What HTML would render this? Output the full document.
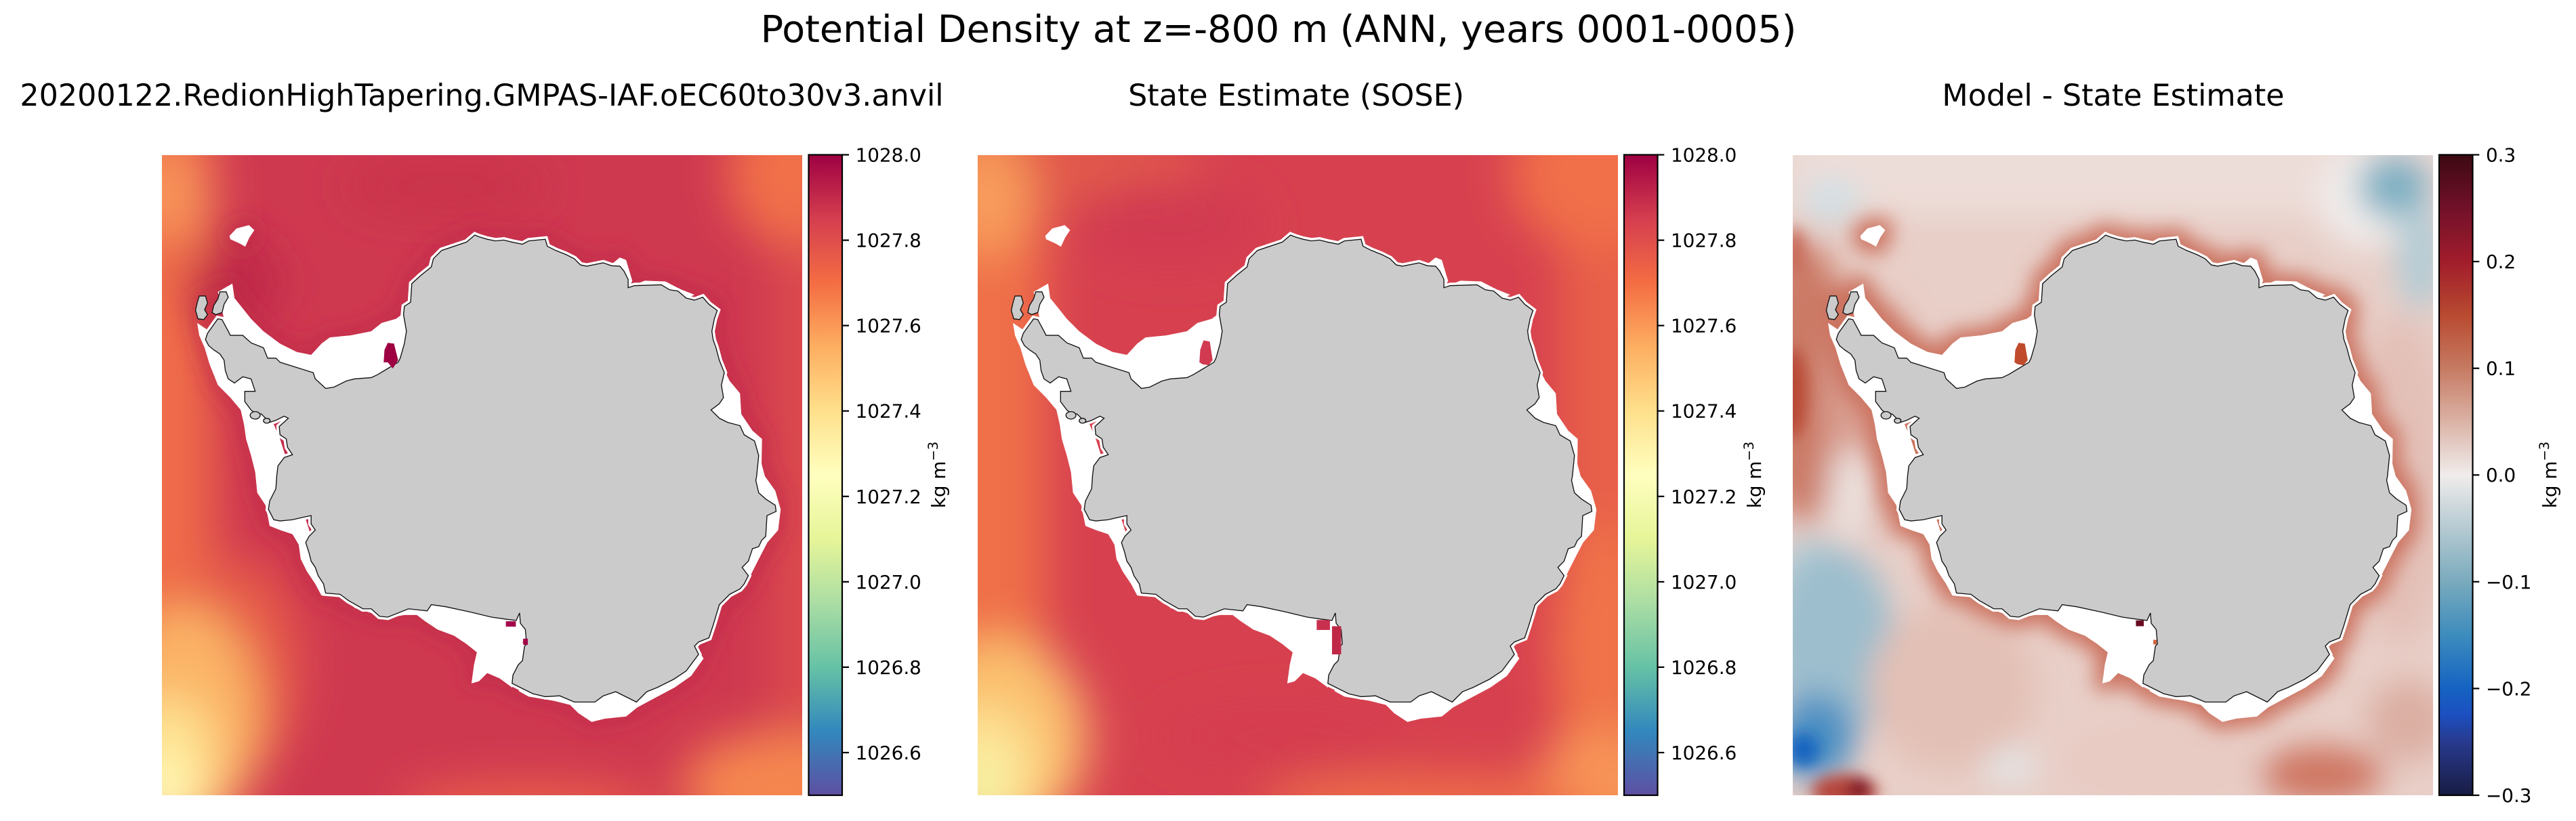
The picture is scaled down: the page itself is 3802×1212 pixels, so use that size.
<!DOCTYPE html>
<html><head><meta charset="utf-8"><style>
html,body{margin:0;padding:0;background:#fff;}
svg{display:block;}
text{font-family:"DejaVu Sans","Liberation Sans",sans-serif;fill:#000;}
</style></head><body>
<svg xmlns="http://www.w3.org/2000/svg" xmlns:xlink="http://www.w3.org/1999/xlink" width="3802" height="1212" viewBox="0 0 3802 1212">
<defs>
<filter id="bl" filterUnits="userSpaceOnUse" x="-600" y="-600" width="2800" height="2800"><feGaussianBlur stdDeviation="55"/></filter>
<filter id="bm" filterUnits="userSpaceOnUse" x="-600" y="-600" width="2800" height="2800"><feGaussianBlur stdDeviation="38"/></filter>
<filter id="bs" filterUnits="userSpaceOnUse" x="-600" y="-600" width="2800" height="2800"><feGaussianBlur stdDeviation="18"/></filter>
<filter id="halo3" filterUnits="userSpaceOnUse" x="-600" y="-600" width="2800" height="2800">
<feMorphology in="SourceAlpha" operator="dilate" radius="18" result="d"/>
<feGaussianBlur in="d" stdDeviation="24" result="b"/>
<feFlood flood-color="#cc7360"/>
<feComposite in2="b" operator="in"/>
</filter>
<filter id="halo1" filterUnits="userSpaceOnUse" x="-600" y="-600" width="2800" height="2800">
<feMorphology in="SourceAlpha" operator="dilate" radius="14" result="d"/>
<feGaussianBlur in="d" stdDeviation="26" result="b"/>
<feFlood flood-color="#bd2446" flood-opacity="0.55"/>
<feComposite in2="b" operator="in"/>
</filter>
<linearGradient id="spec" x1="0" y1="0" x2="0" y2="1">
<stop offset="0" stop-color="#9e0142"/><stop offset="0.1" stop-color="#d53e4f"/><stop offset="0.2" stop-color="#f46d43"/><stop offset="0.3" stop-color="#fdae61"/><stop offset="0.4" stop-color="#fee08b"/><stop offset="0.5" stop-color="#ffffbf"/><stop offset="0.6" stop-color="#e6f598"/><stop offset="0.7" stop-color="#abdda4"/><stop offset="0.8" stop-color="#66c2a5"/><stop offset="0.9" stop-color="#3288bd"/><stop offset="1" stop-color="#5e4fa2"/>
</linearGradient>
<linearGradient id="bal" x1="0" y1="0" x2="0" y2="1">
<stop offset="0" stop-color="#3c0912"/><stop offset="0.083" stop-color="#72102a"/><stop offset="0.167" stop-color="#a11d2b"/><stop offset="0.25" stop-color="#b84a30"/><stop offset="0.333" stop-color="#c67a62"/><stop offset="0.417" stop-color="#dbb3a6"/><stop offset="0.5" stop-color="#f0eceb"/><stop offset="0.583" stop-color="#b5cad2"/><stop offset="0.667" stop-color="#79aabd"/><stop offset="0.75" stop-color="#3d8cbd"/><stop offset="0.833" stop-color="#1563c2"/><stop offset="0.875" stop-color="#1c4fc0"/><stop offset="0.917" stop-color="#283a8e"/><stop offset="1" stop-color="#181c43"/>
</linearGradient>
<path id="land" d="M125,445 L150,410 L160,412 L175,440 L180,450 L210,450 L230,468 L260,480 L270,505 L290,505 L300,515 L380,540 L385,555 L410,578 L430,575 L460,560 L480,555 L520,552 L535,545 L560,530 L585,515 L590,505 L600,470 L605,440 L598,400 L600,380 L615,370 L618,325 L640,305 L665,285 L670,265 L690,245 L720,235 L750,225 L770,208 L780,212 L800,218 L820,222 L840,220 L860,225 L885,230 L900,222 L940,218 L945,235 L965,245 L990,255 L1010,265 L1025,280 L1040,283 L1080,275 L1100,282 L1120,283 L1130,295 L1140,315 L1140,335 L1155,330 L1220,328 L1240,340 L1260,343 L1280,360 L1300,365 L1320,358 L1335,375 L1355,390 L1348,410 L1342,440 L1345,460 L1352,480 L1360,510 L1372,540 L1365,570 L1370,600 L1360,615 L1340,630 L1360,650 L1380,660 L1410,668 L1420,690 L1445,705 L1455,740 L1450,790 L1448,800 L1455,830 L1472,845 L1495,860 L1497,875 L1475,885 L1472,935 L1462,945 L1455,960 L1440,965 L1430,995 L1415,1010 L1430,1030 L1420,1050 L1410,1062 L1385,1075 L1360,1100 L1345,1150 L1335,1180 L1310,1190 L1300,1200 L1310,1220 L1280,1260 L1250,1280 L1210,1300 L1185,1310 L1160,1335 L1140,1325 L1110,1310 L1080,1320 L1060,1335 L1010,1335 L975,1320 L940,1322 L910,1315 L880,1300 L860,1290 L862,1270 L875,1245 L885,1235 L890,1200 L895,1195 L892,1160 L880,1145 L878,1120 L870,1138 L845,1135 L810,1130 L760,1118 L700,1105 L665,1100 L655,1115 L610,1110 L560,1130 L540,1128 L520,1110 L500,1110 L465,1090 L445,1075 L410,1072 L405,1050 L392,1030 L385,1010 L375,995 L370,975 L362,950 L370,935 L385,920 L375,905 L375,885 L360,888 L330,895 L300,898 L285,895 L272,870 L275,850 L290,820 L292,790 L295,765 L310,745 L330,738 L318,720 L315,700 L300,690 L298,670 L320,650 L310,645 L290,655 L275,660 L265,650 L255,640 L240,638 L230,630 L215,610 L215,585 L240,585 L230,555 L210,550 L190,565 L175,555 L168,535 L165,510 L155,495 L140,485 L128,475 L120,460 Z"/>
<g id="isl">
<path d="M105,355 L120,355 L125,372 L118,388 L125,400 L116,412 L102,410 L96,390 L100,372 Z"/>
<path d="M155,345 L170,345 L175,358 L165,375 L160,395 L145,400 L136,395 L140,378 L150,362 Z"/>
<ellipse cx="240" cy="643" rx="12" ry="9"/>
<ellipse cx="268" cy="656" rx="8" ry="6"/>
</g>
<g id="wht" fill="#fff">
<path d="M150,345 L185,325 L190,360 L210,385 L230,410 L260,440 L300,470 L340,490 L375,497 L400,470 L420,455 L470,450 L520,440 L545,420 L580,410 L600,395 L610,480 L590,520 L420,585 L300,520 L175,455 Z"/>
<path d="M100,420 L105,450 L118,480 L130,520 L150,570 L180,600 L205,630 L213,665 L218,700 L230,740 L240,780 L245,830 L265,860 L275,910 L300,920 L330,930 L345,955 L350,990 L365,1020 L385,1050 L400,1078 L430,1080 L380,950 L300,700 L240,560 L130,440 Z"/>
<path d="M465,1090 L480,1108 L520,1120 L545,1135 L600,1125 L630,1125 L650,1140 L680,1160 L720,1175 L750,1195 L775,1215 L768,1245 L762,1290 L780,1285 L800,1265 L830,1278 L860,1300 L880,1250 L890,1150 L870,1110 L700,1095 L500,1095 Z"/>
<path d="M178,210 L195,192 L225,184 L238,196 L226,214 L216,236 L202,228 L180,218 Z"/>
<path d="M1350,470 L1370,530 L1385,560 L1410,590 L1413,640 L1440,680 L1463,700 L1462,760 L1470,790 L1495,825 L1508,870 L1502,920 L1476,950 L1463,975 L1440,1020 L1430,1040 L1412,1062 L1380,1082 L1360,1100 L1300,900 L1300,600 Z"/>
<path d="M1300,1195 L1322,1230 L1292,1272 L1252,1300 L1205,1325 L1162,1348 L1135,1370 L1085,1375 L1052,1383 L1020,1362 L1000,1342 L960,1332 L900,1322 L875,1308 L1000,1250 L1250,1200 Z"/>
<path d="M1098,280 L1120,262 L1135,268 L1150,318 L1142,338 L1120,300 Z"/>
<path d="M1150,330 L1180,318 L1230,320 L1265,338 L1300,352 L1280,362 L1220,335 Z"/>
<use xlink:href="#land" fill="#fff" stroke="#fff" stroke-width="14"/>
</g>
<g id="ant">
<use xlink:href="#wht"/>
<use xlink:href="#land" fill="#cbcbcb" stroke="#111" stroke-width="2.2"/>
<use xlink:href="#isl" fill="#cbcbcb" stroke="#111" stroke-width="2.2"/>
</g>
</defs>

<rect x="0" y="0" width="3802" height="1212" fill="#fff"/>

<text x="1887" y="62" font-size="55.6" text-anchor="middle">Potential Density at z=-800 m (ANN, years 0001-0005)</text>
<text x="711" y="156" font-size="44.4" text-anchor="middle">20200122.RedionHighTapering.GMPAS-IAF.oEC60to30v3.anvil</text>
<text x="1913" y="156" font-size="44.4" text-anchor="middle">State Estimate (SOSE)</text>
<text x="3119" y="156" font-size="44.4" text-anchor="middle">Model - State Estimate</text>

<!-- Panel 1 -->
<svg x="239" y="229" width="945" height="945" viewBox="15 15 1545 1545" preserveAspectRatio="none">
<rect x="0" y="0" width="1600" height="1600" fill="#cf3950"/>
<g filter="url(#bl)">
<rect x="-200" y="-100" width="340" height="1800" fill="#ef6c48"/>
<rect x="1490" y="-100" width="300" height="1800" fill="#dc4b4d"/>
<ellipse cx="200" cy="1250" rx="150" ry="260" fill="#e65c4a"/>
<ellipse cx="40" cy="110" rx="90" ry="110" fill="#f8955a"/>
<ellipse cx="70" cy="1380" rx="180" ry="280" fill="#fbb466"/>
<ellipse cx="30" cy="1480" rx="110" ry="160" fill="#fee594"/>
<ellipse cx="10" cy="1550" rx="70" ry="70" fill="#ffffc0"/>
<ellipse cx="1530" cy="60" rx="150" ry="170" fill="#f1704a"/>
<ellipse cx="1500" cy="1540" rx="230" ry="130" fill="#f58650"/>
<ellipse cx="900" cy="1590" rx="320" ry="60" fill="#ea6048"/>
<ellipse cx="190" cy="320" rx="110" ry="100" fill="#bd2647"/>
<ellipse cx="700" cy="90" rx="250" ry="60" fill="#c93249"/>
</g>
<use xlink:href="#ant" filter="url(#halo1)"/>
<use xlink:href="#ant"/>
<path d="M552,485 L560,468 L575,470 L585,510 L572,530 L560,515 L550,515 Z" fill="#9e0142"/>
<rect x="845" y="1140" width="24" height="13" fill="#a4064a"/>
<rect x="887" y="1182" width="11" height="15" fill="#a4064a"/>
</svg>

<!-- Panel 2 -->
<svg x="1443" y="229" width="945" height="945" viewBox="15 15 1545 1545" preserveAspectRatio="none">
<rect x="0" y="0" width="1600" height="1600" fill="#d7414f"/>
<g filter="url(#bl)">
<rect x="-200" y="-100" width="380" height="1800" fill="#ef7049"/>
<rect x="1420" y="-100" width="380" height="1800" fill="#e8604a"/>
<ellipse cx="300" cy="50" rx="260" ry="90" fill="#e25a4b"/>
<ellipse cx="40" cy="120" rx="110" ry="140" fill="#f89c5c"/>
<ellipse cx="70" cy="1420" rx="210" ry="240" fill="#fbc06e"/>
<ellipse cx="30" cy="1500" rx="120" ry="150" fill="#fde79a"/>
<ellipse cx="10" cy="1550" rx="60" ry="60" fill="#eef5a8"/>
<ellipse cx="1500" cy="60" rx="200" ry="180" fill="#f17049"/>
<ellipse cx="1520" cy="1200" rx="120" ry="300" fill="#f07349"/>
<ellipse cx="1520" cy="1530" rx="160" ry="130" fill="#f89459"/>
<ellipse cx="1100" cy="1580" rx="400" ry="70" fill="#ef7049"/>
<ellipse cx="480" cy="180" rx="230" ry="110" fill="#d23a51"/>
<ellipse cx="750" cy="1420" rx="300" ry="90" fill="#d53d50"/>
</g>
<use xlink:href="#ant"/>
<path d="M552,485 L560,462 L575,465 L582,510 L572,522 L558,520 L550,515 Z" fill="#d13a50"/>
<rect x="833" y="1137" width="32" height="24" fill="#c8304e"/>
<rect x="870" y="1152" width="22" height="68" fill="#c02848"/>
</svg>

<!-- Panel 3 -->
<svg x="2646" y="229" width="945" height="945" viewBox="15 15 1545 1545" preserveAspectRatio="none">
<rect x="0" y="0" width="1600" height="1600" fill="#e8cfc8"/>
<g filter="url(#bm)">
<rect x="0" y="-100" width="1600" height="260" fill="#edddd8"/>
<ellipse cx="1400" cy="120" rx="120" ry="120" fill="#f0eceb"/>
<ellipse cx="1470" cy="90" rx="90" ry="80" fill="#7fb0c3"/>
<ellipse cx="1530" cy="260" rx="60" ry="130" fill="#b4ccd5"/>
<ellipse cx="110" cy="125" rx="70" ry="55" fill="#d0e0e6"/>
<ellipse cx="40" cy="560" rx="120" ry="340" fill="#cb7a66"/>
<ellipse cx="210" cy="640" rx="120" ry="280" fill="#d99f91"/>
<ellipse cx="160" cy="830" rx="60" ry="110" fill="#ece2df"/>
<ellipse cx="60" cy="1050" rx="90" ry="110" fill="#b6cfd8"/>
<ellipse cx="110" cy="1200" rx="150" ry="240" fill="#9cbecd"/>
<ellipse cx="70" cy="1420" rx="95" ry="105" fill="#4b8fc3"/>
<ellipse cx="400" cy="1300" rx="200" ry="200" fill="#e3c0b5"/>
<ellipse cx="1290" cy="1510" rx="150" ry="70" fill="#cf7763"/>
<ellipse cx="1500" cy="1380" rx="100" ry="100" fill="#dcafa3"/>
<ellipse cx="1480" cy="800" rx="120" ry="400" fill="#e3c0b7"/>
<ellipse cx="900" cy="1480" rx="250" ry="100" fill="#e8cbc3"/>
<ellipse cx="540" cy="1490" rx="60" ry="40" fill="#e3e8ea"/>
</g>
<g filter="url(#bs)">
<ellipse cx="15" cy="590" rx="35" ry="110" fill="#b84a35"/>
<ellipse cx="20" cy="250" rx="25" ry="60" fill="#c86a58"/>
<ellipse cx="40" cy="1450" rx="40" ry="40" fill="#1565c0"/>
<ellipse cx="140" cy="1550" rx="80" ry="40" fill="#b5453a"/>
<ellipse cx="175" cy="1545" rx="28" ry="28" fill="#7a1020"/>
</g>
<use xlink:href="#ant" filter="url(#halo3)"/>
<use xlink:href="#ant"/>
<path d="M552,485 L560,468 L575,470 L582,510 L572,522 L558,520 L550,515 Z" fill="#c04a2c"/>
<rect x="843" y="1138" width="19" height="14" fill="#6a0a22"/>
<rect x="885" y="1185" width="8" height="11" fill="#d06040"/>
</svg>

<!-- Colorbar 1 -->
<rect x="1193.5" y="228.5" width="49.5" height="945.5" fill="url(#spec)" stroke="#000" stroke-width="2.2"/>
<g stroke="#000" stroke-width="2.2">
<line x1="1243" y1="228.5" x2="1253" y2="228.5"/><line x1="1243" y1="354.6" x2="1253" y2="354.6"/><line x1="1243" y1="480.6" x2="1253" y2="480.6"/><line x1="1243" y1="606.7" x2="1253" y2="606.7"/><line x1="1243" y1="732.8" x2="1253" y2="732.8"/><line x1="1243" y1="858.9" x2="1253" y2="858.9"/><line x1="1243" y1="984.9" x2="1253" y2="984.9"/><line x1="1243" y1="1111" x2="1253" y2="1111"/>
</g>
<g font-size="27.8">
<text x="1262.6" y="238.5">1028.0</text><text x="1262.6" y="364.6">1027.8</text><text x="1262.6" y="490.6">1027.6</text><text x="1262.6" y="616.7">1027.4</text><text x="1262.6" y="742.8">1027.2</text><text x="1262.6" y="868.9">1027.0</text><text x="1262.6" y="994.9">1026.8</text><text x="1262.6" y="1121">1026.6</text>
</g>
<text transform="translate(1395,701) rotate(-90)" font-size="27.8" text-anchor="middle">kg m<tspan dy="-11" font-size="19.5">−3</tspan></text>

<!-- Colorbar 2 -->
<rect x="2397" y="228.5" width="49.5" height="945.5" fill="url(#spec)" stroke="#000" stroke-width="2.2"/>
<g stroke="#000" stroke-width="2.2">
<line x1="2446.5" y1="228.5" x2="2456.3" y2="228.5"/><line x1="2446.5" y1="354.6" x2="2456.3" y2="354.6"/><line x1="2446.5" y1="480.6" x2="2456.3" y2="480.6"/><line x1="2446.5" y1="606.7" x2="2456.3" y2="606.7"/><line x1="2446.5" y1="732.8" x2="2456.3" y2="732.8"/><line x1="2446.5" y1="858.9" x2="2456.3" y2="858.9"/><line x1="2446.5" y1="984.9" x2="2456.3" y2="984.9"/><line x1="2446.5" y1="1111" x2="2456.3" y2="1111"/>
</g>
<g font-size="27.8">
<text x="2466" y="238.5">1028.0</text><text x="2466" y="364.6">1027.8</text><text x="2466" y="490.6">1027.6</text><text x="2466" y="616.7">1027.4</text><text x="2466" y="742.8">1027.2</text><text x="2466" y="868.9">1027.0</text><text x="2466" y="994.9">1026.8</text><text x="2466" y="1121">1026.6</text>
</g>
<text transform="translate(2599,701) rotate(-90)" font-size="27.8" text-anchor="middle">kg m<tspan dy="-11" font-size="19.5">−3</tspan></text>

<!-- Colorbar 3 -->
<rect x="3600" y="228.5" width="49.5" height="945.5" fill="url(#bal)" stroke="#000" stroke-width="2.2"/>
<g stroke="#000" stroke-width="2.2">
<line x1="3649.5" y1="228.5" x2="3659.3" y2="228.5"/><line x1="3649.5" y1="386.1" x2="3659.3" y2="386.1"/><line x1="3649.5" y1="543.7" x2="3659.3" y2="543.7"/><line x1="3649.5" y1="701.2" x2="3659.3" y2="701.2"/><line x1="3649.5" y1="858.8" x2="3659.3" y2="858.8"/><line x1="3649.5" y1="1016.4" x2="3659.3" y2="1016.4"/><line x1="3649.5" y1="1174" x2="3659.3" y2="1174"/>
</g>
<g font-size="27.8">
<text x="3669" y="238.5">0.3</text><text x="3669" y="396.1">0.2</text><text x="3669" y="553.7">0.1</text><text x="3669" y="711.2">0.0</text><text x="3669" y="868.8">−0.1</text><text x="3669" y="1026.4">−0.2</text><text x="3669" y="1184">−0.3</text>
</g>
<text transform="translate(3773,701) rotate(-90)" font-size="27.8" text-anchor="middle">kg m<tspan dy="-11" font-size="19.5">−3</tspan></text>
</svg>
</body></html>
